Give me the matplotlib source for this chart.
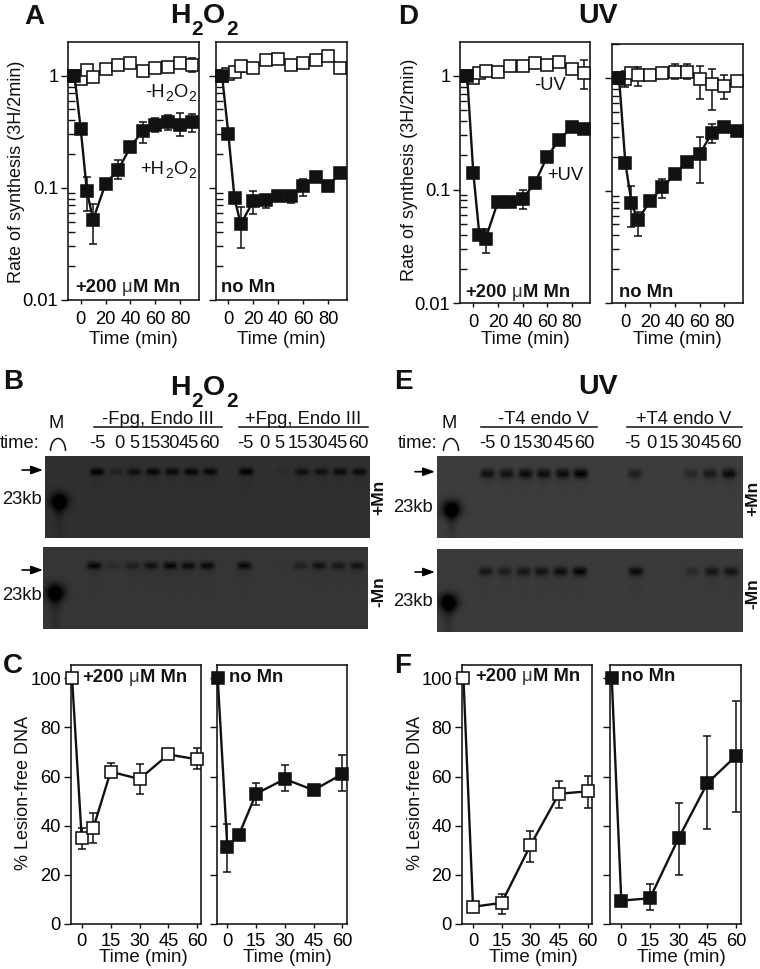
import numpy as np
import matplotlib
matplotlib.use("Agg")
import matplotlib.pyplot as plt
from matplotlib.ticker import LogLocator, NullFormatter, FixedLocator
from matplotlib.patches import Arc

plt.rcParams['font.family'] = ['Liberation Sans', 'DejaVu Sans']

W, H = 760, 969
INK = '#111111'

# synthesis time course (panels A and D)
syn_t = [-5, 0, 5, 10, 20, 30, 40, 50, 60, 70, 80, 90]

a1_open = [1.0, 0.93, 1.12, 0.97, 1.14, 1.25, 1.285, 1.10, 1.17, 1.20, 1.285, 1.25]
a1_fill = [1.0, 0.337, 0.093, 0.052, 0.109, 0.144, 0.23, 0.324, 0.366, 0.39, 0.366, 0.39]
a1_open_err = {90: (1.08, 1.45)}
a1_fill_err = {5: (0.0626, 0.125), 10: (0.0313, 0.072), 30: (0.119, 0.176), 50: (0.252, 0.39),
               60: (0.316, 0.42), 70: (0.326, 0.448), 80: (0.288, 0.464), 90: (0.316, 0.458)}

a2_open = [1.0, 1.03, 1.085, 1.226, 1.18, 1.376, 1.41, 1.25, 1.30, 1.376, 1.51, 1.18]
a2_fill = [1.0, 0.305, 0.0805, 0.0474, 0.0762, 0.0782, 0.0849, 0.0849, 0.103, 0.125, 0.103, 0.137]
a2_open_err = {10: (1.09, 1.36)}
a2_fill_err = {10: (0.029, 0.067), 20: (0.059, 0.094), 30: (0.066, 0.085), 50: (0.074, 0.094), 60: (0.085, 0.121)}

d1_open = [1.0, 0.966, 1.07, 1.11, 1.077, 1.22, 1.22, 1.29, 1.25, 1.335, 1.144, 1.07]
d1_fill = [1.0, 0.14, 0.0395, 0.0369, 0.078, 0.0775, 0.083, 0.113, 0.195, 0.275, 0.352, 0.34]
d1_open_err = {90: (0.764, 1.38)}
d1_fill_err = {10: (0.0278, 0.0445), 40: (0.0675, 0.1)}

d2_open = [1.0, 0.99, 1.12, 1.07, 1.07, 1.11, 1.145, 1.145, 0.98, 0.885, 0.855, 0.94]
d2_fill = [1.0, 0.178, 0.078, 0.0543, 0.081, 0.107, 0.14, 0.18, 0.21, 0.327, 0.37, 0.338]
d2_open_err = {0: (0.833, 1.17), 10: (0.855, 1.27), 40: (0.98, 1.34), 50: (0.98, 1.34),
               60: (0.653, 1.29), 70: (0.518, 1.2), 80: (0.653, 1.07)}
d2_fill_err = {5: (0.0475, 0.11), 10: (0.0396, 0.0644), 30: (0.086, 0.128), 60: (0.117, 0.30), 70: (0.263, 0.395)}

# lesion-free DNA (panels C and F)
c_t = [-5, 0, 6, 15, 30, 45, 60]
c1_vals = [100, 35, 39, 62, 59, 69, 67]
c2_vals = [100, 31.5, 36.2, 53, 59, 54.5, 61]
c1_err = {0: (30.4, 39), 6: (33, 45.3), 15: (60.2, 65.4), 30: (53, 65), 45: (67, 71), 60: (63, 71.5)}
c2_err = {0: (21.3, 40.5), 15: (48.4, 57.5), 30: (54.1, 64.9), 60: (54.1, 68.7)}

f_t = [-5, 0, 15, 30, 45, 60]
f1_vals = [100, 7, 8.6, 32, 53, 54]
f2_vals = [100, 9.5, 10.5, 35, 57.3, 68.4]
f1_err = {15: (4.1, 12.2), 30: (25.4, 38), 45: (47.4, 58), 60: (47.4, 60.4)}
f2_err = {15: (5.7, 16.3), 30: (19.8, 49.4), 45: (38.5, 76.7), 60: (45.5, 90.9)}

syn_ticks = [0, 20, 40, 60, 80]
les_ticks = [0, 15, 30, 45, 60]
les_yticks = [0, 20, 40, 60, 80, 100]

# gels: lane x pixel, band strength 0-1
b_labels = ['-5', '0', '5', '15', '30', '45', '60']
e_labels = ['-5', '0', '15', '30', '45', '60']
b_label_x = [97, 119, 134, 151, 170, 189, 209, 245, 264, 279, 298, 318, 338, 358]
e_label_x = [487, 504, 523, 543, 564, 584, 632, 651, 669, 691, 711, 731]
b1_lanes = [97, 116, 134, 153, 172, 191, 210, 246, 264, 283, 302, 321, 340, 359]
b2_lanes = [94, 113, 132, 151, 170, 188, 207, 244, 263, 282, 300, 319, 338, 357]
e1_lanes = [487, 506, 525, 543, 562, 580, 634, 653, 672, 690, 709, 728]
e2_lanes = [485, 504, 523, 541, 560, 579, 635, 654, 673, 691, 711, 730]
b1_bands = [1.0, 0.3, 0.7, 0.85, 0.85, 0.9, 0.9, 1.0, 0, 0.12, 0.7, 0.7, 0.8, 0.8]
b2_bands = [0.9, 0.2, 0.45, 0.7, 0.9, 0.8, 0.85, 0.85, 0, 0.05, 0.4, 0.7, 0.55, 0.65]
e1_bands = [0.75, 0.75, 0.85, 0.8, 0.85, 1.0, 0.5, 0, 0, 0.35, 0.6, 0.85]
e2_bands = [0.6, 0.5, 0.65, 0.7, 0.8, 0.95, 0.85, 0, 0, 0.3, 0.65, 0.7]


def px_axes(fig, x0, y0, x1, y1):
    return fig.add_axes([x0 / W, 1 - y1 / H, (x1 - x0) / W, (y1 - y0) / H])


def style_frame(ax):
    for s in ax.spines.values():
        s.set_linewidth(1.15)
        s.set_color(INK)
    ax.patch.set_facecolor('white')


def plot_series(ax, t, vals, err, filled, z):
    for k, (lo, hi) in err.items():
        v = vals[t.index(k)]
        ax.errorbar([k], [v], yerr=[[v - lo], [hi - v]], fmt='none', ecolor=INK, elinewidth=1.1,
                    capsize=3, capthick=1.1, clip_on=False, zorder=z)
    ax.plot(t, vals, '-', color=INK, lw=1.7, zorder=z + 1, clip_on=False)
    ax.plot(t, vals, 's', ms=8, mfc=INK if filled else 'white', mec=INK, mew=1.15,
            zorder=z + 2, clip_on=False)


def syn_panel(fig, box, x_cal, y_cal, open_v, fill_v, open_err, fill_err, ticklabels):
    x0, y0, x1, y1 = box
    ax = px_axes(fig, *box)
    per_min = (x_cal[1] - x_cal[0]) / 80.0
    ax.set_xlim((x0 - x_cal[0]) / per_min, (x1 - x_cal[0]) / per_min)
    decade = (y1 - y_cal) / 2.0
    ax.set_yscale('log')
    ax.set_ylim(0.01, 10 ** ((y_cal - y0) / decade))
    ax.yaxis.set_major_locator(FixedLocator([0.01, 0.1, 1]))
    ax.yaxis.set_minor_locator(LogLocator(base=10, subs=np.arange(2, 10), numticks=12))
    ax.yaxis.set_minor_formatter(NullFormatter())
    ax.set_yticklabels(['0.01', '0.1', '1'] if ticklabels else [])
    ax.tick_params(axis='y', which='major', direction='out', length=5, width=1, labelsize=13.2, pad=2, color=INK)
    ax.tick_params(axis='y', which='minor', direction='in', length=5, width=1, color=INK)
    ax.set_xticks(syn_ticks)
    ax.tick_params(axis='x', direction='out', length=3.2, width=1, labelsize=13.2, pad=4.5, color=INK)
    style_frame(ax)
    plot_series(ax, syn_t, open_v, open_err, False, 3)
    plot_series(ax, syn_t, fill_v, fill_err, True, 6)
    return ax


def les_panel(fig, box, x_cal, t, vals, err, filled, ticklabels):
    x0, y0, x1, y1 = box
    ax = px_axes(fig, *box)
    per_min = (x_cal[1] - x_cal[0]) / 60.0
    ax.set_xlim((x0 - x_cal[0]) / per_min, (x1 - x_cal[0]) / per_min)
    ax.set_ylim(0, (y1 - y0) / ((y1 - 678.3) / 100.0))
    ax.set_yticks(les_yticks)
    ax.set_yticklabels([str(v) for v in les_yticks] if ticklabels else [])
    ax.tick_params(axis='y', direction='out', length=5, width=1, labelsize=13.2, pad=2, color=INK)
    ax.set_xticks(les_ticks)
    ax.tick_params(axis='x', direction='out', length=3.2, width=1, labelsize=13.2, pad=3, color=INK)
    style_frame(ax)
    plot_series(ax, t, vals, err, filled, 3)
    return ax


def gel(fig, box, bg, lanes, band_y, bands, band_h, m_x, m_y):
    x0, y0, x1, y1 = box
    xx, yy = np.meshgrid(np.arange(x0, x1, 0.5), np.arange(y0, y1, 0.5))
    dark = np.zeros_like(xx)
    for lx, b in zip(lanes, bands):
        dark += 0.9 * b * np.exp(-((xx - lx) / 7.2) ** 4 - ((yy - band_y) / band_h) ** 2)
        dark += 0.14 * b * np.exp(-((xx - lx) / 7.0) ** 2) * np.exp(-np.clip(yy - band_y, 0, None) / 16.0) * (yy > band_y)
    dark += 1.4 * np.exp(-((xx - m_x) / 9.0) ** 2 - ((yy - m_y) / 8.5) ** 2)
    dark += 0.45 * np.exp(-((xx - m_x) / 5.0) ** 2) * np.exp(-np.clip(yy - m_y, 0, None) / 26.0) * (yy > m_y)
    img = bg * (1 - np.clip(dark, 0, 1))
    ax = px_axes(fig, *box)
    ax.imshow(img, cmap='gray', vmin=0, vmax=1, aspect='auto', interpolation='bilinear',
              extent=(x0, x1, y1, y0))
    ax.axis('off')


fig = plt.figure(figsize=(W / 100, H / 100), dpi=100)

syn_panel(fig, (68, 42, 199, 300), (80.7, 180), 75.7, a1_open, a1_fill, a1_open_err, a1_fill_err, True)
syn_panel(fig, (216, 42, 347, 300), (228.3, 328), 75.7, a2_open, a2_fill, a2_open_err, a2_fill_err, False)
syn_panel(fig, (460, 42, 590, 303), (473.3, 571.7), 76, d1_open, d1_fill, d1_open_err, d1_fill_err, True)
syn_panel(fig, (612.3, 44, 743, 303), (625.3, 724.3), 78.3, d2_open, d2_fill, d2_open_err, d2_fill_err, False)

gel(fig, (45, 455.7, 370, 537.7), 0.19, b1_lanes, 471, b1_bands, 3.6, 59, 501)
gel(fig, (43, 546.7, 368, 628.7), 0.21, b2_lanes, 565, b2_bands, 3.6, 55, 592)
gel(fig, (436.7, 455.7, 742, 537.7), 0.24, e1_lanes, 473, e1_bands, 4.8, 451, 509)
gel(fig, (436.7, 549, 742, 631.7), 0.23, e2_lanes, 571, e2_bands, 4.4, 448, 602)

les_panel(fig, (70.7, 665, 201, 924), (81.7, 197.3), c_t, c1_vals, c1_err, False, True)
les_panel(fig, (216.7, 665, 346.7, 924), (227.3, 342.3), c_t, c2_vals, c2_err, True, False)
les_panel(fig, (461.7, 665, 592.3, 924), (473, 587.7), f_t, f1_vals, f1_err, False, True)
les_panel(fig, (610.3, 665, 741, 924), (621.3, 736), f_t, f2_vals, f2_err, True, False)

# everything else is placed on a full-figure overlay in pixel units
ov = fig.add_axes([0, 0, 1, 1], zorder=20)
ov.set_xlim(0, W)
ov.set_ylim(H, 0)
ov.axis('off')
ov.patch.set_alpha(0)
rend = fig.canvas.get_renderer()


def txt(x, y, s, size=13.2, weight='normal', ha='center', va='center', rot=0):
    return ov.text(x, y, s, fontsize=size, fontweight=weight, ha=ha, va=va, rotation=rot, color=INK)


def chem(x, base, pieces, size, sub_size, sub_drop, weight='normal'):
    # pieces: (string, is_subscript), laid out left to right
    for s, is_sub in pieces:
        t = ov.text(x, base + (sub_drop if is_sub else 0), s, fontsize=sub_size if is_sub else size,
                    fontweight=weight, ha='left', va='baseline', color=INK)
        x += t.get_window_extent(rend).width + 0.6


def mn_label(x, base):
    t = ov.text(x, base, '+200', fontsize=13.2, fontweight='bold', ha='left', va='baseline', color=INK)
    x += t.get_window_extent(rend).width + 5
    t = ov.text(x, base, '\u03bc', fontsize=13.2, ha='left', va='baseline', color='#333333')
    x += t.get_window_extent(rend).width + 0.5
    ov.text(x, base, 'M Mn', fontsize=13.2, fontweight='bold', ha='left', va='baseline', color=INK)


h2o2 = [('H', False), ('2', True), ('O', False), ('2', True)]
chem(170, 23, h2o2, 20.5, 15, 12, 'bold')
chem(170, 395, h2o2, 20.5, 15, 12, 'bold')
txt(598, 22.7, 'UV', 20.5, 'bold', va='baseline')
txt(598, 394, 'UV', 20.5, 'bold', va='baseline')

for x, base, s in [(24, 24, 'A'), (398, 24, 'D'), (3, 389, 'B'), (394, 389, 'E'), (3, 673, 'C'), (394, 673, 'F')]:
    txt(x, base, s, 20, 'bold', ha='left', va='baseline')

chem(145, 97, [('-H', False), ('2', True), ('O', False), ('2', True)], 13.2, 10, 4)
chem(140.5, 174, [('+H', False), ('2', True), ('O', False), ('2', True)], 13.2, 10, 4)
txt(550, 85, '-UV')
txt(565, 175, '+UV')

mn_label(75, 292)
txt(221, 292, 'no Mn', 13.2, 'bold', ha='left', va='baseline')
mn_label(465, 297)
txt(619, 297, 'no Mn', 13.2, 'bold', ha='left', va='baseline')
mn_label(82, 682)
txt(229, 682, 'no Mn', 13.2, 'bold', ha='left', va='baseline')
mn_label(475, 681)
txt(621, 681, 'no Mn', 13.2, 'bold', ha='left', va='baseline')

for x, y, s in [(17, 172, 'Rate of synthesis (3H/2min)'), (410, 170, 'Rate of synthesis (3H/2min)'),
                (24, 793, '% Lesion-free DNA'), (415, 793, '% Lesion-free DNA')]:
    txt(x, y, s, 13, rot=90)

for x, y in [(133, 340), (281, 340), (525, 340), (677, 340), (143, 957), (287, 957), (533, 957), (681, 957)]:
    txt(x, y, 'Time (min)', 13.5)

# gel headers
for cx, s in [(158, '-Fpg, Endo III'), (303, '+Fpg, Endo III'), (543, '-T4 endo V'), (684, '+T4 endo V')]:
    txt(cx, 419, s)
for x0, x1 in [(94, 222), (239, 368), (481, 597), (627, 742)]:
    ov.plot([x0, x1], [427, 427], color=INK, lw=1.1)
for x, s in zip(b_label_x, b_labels + b_labels):
    txt(x, 444, s)
for x, s in zip(e_label_x, e_labels + e_labels):
    txt(x, 444, s)

txt(39, 444, 'time:', ha='right')
txt(437, 444, 'time:', ha='right')
txt(56, 423, 'M')
txt(449, 423, 'M')
for cx in [58, 451]:
    ov.add_patch(Arc((cx, 451), 15, 25, theta1=180, theta2=360, color=INK, lw=1.1))

for x, y in [(42, 499), (42, 596), (433, 507), (433, 601)]:
    txt(x, y, '23kb', ha='right')
for x0, x1, y in [(22, 43, 470), (22, 43, 570), (415, 435, 471.7), (415, 435, 572)]:
    ov.annotate('', xy=(x1, y), xytext=(x0, y),
                arrowprops=dict(arrowstyle='-|>,head_length=0.7,head_width=0.25', color='black', lw=1.2, shrinkA=0, shrinkB=0))
for x, y, s in [(379, 497, '+Mn'), (379, 592, '-Mn'), (753, 498, '+Mn'), (753, 594, '-Mn')]:
    txt(x, y, s, 12.5, 'bold', rot=90)

fig.savefig('out.png', dpi=100)
